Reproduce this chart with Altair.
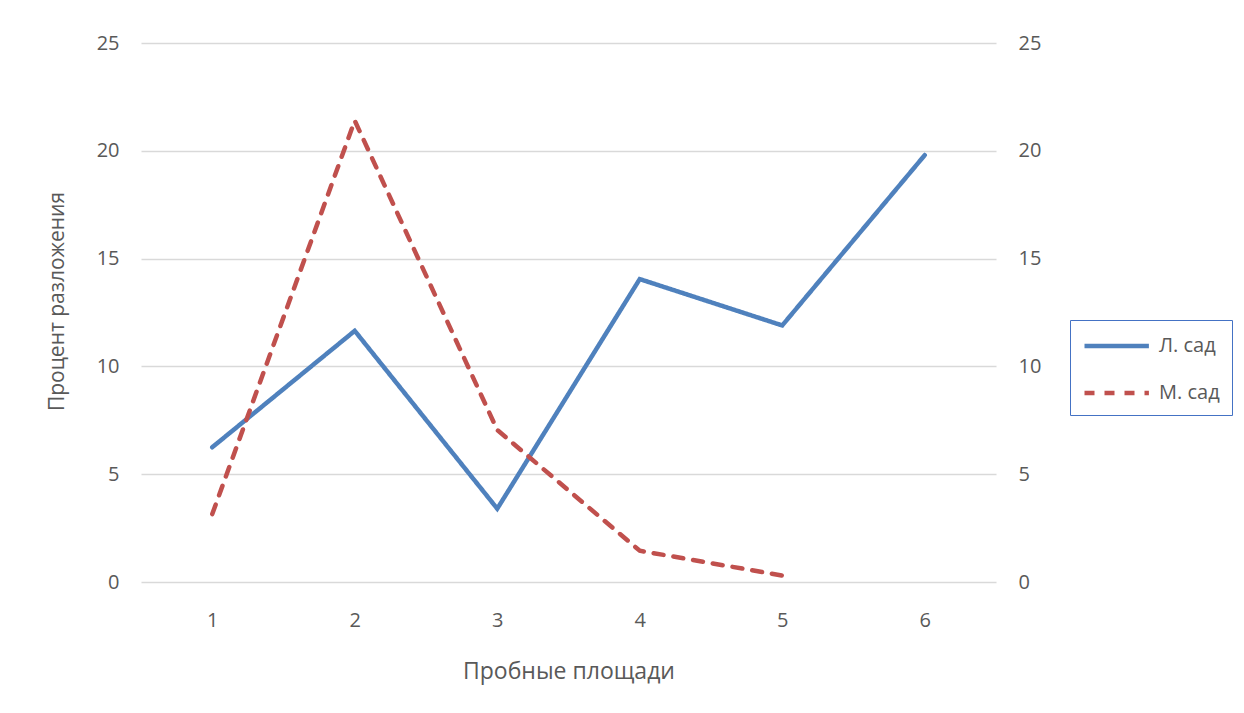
import altair as alt
import pandas as pd

categories = [1, 2, 3, 4, 5, 6]
series_l = [6.25, 11.65, 3.4, 14.05, 11.9, 19.8]
series_m = [3.15, 21.4, 7.05, 1.45, 0.3]
series_names = ["Л. сад", "М. сад"]
colors = ["#4f81bd", "#c0504d"]
y_ticks = [0, 5, 10, 15, 20, 25]

rows = []
for c, v in zip(categories, series_l):
    rows.append({"x": c, "y": v, "s": series_names[0]})
for c, v in zip(categories, series_m):
    rows.append({"x": c, "y": v, "s": series_names[1]})
df = pd.DataFrame(rows)

FONT = "Open Sans"
GRAY = "#595959"

xenc = alt.X("x:O", scale=alt.Scale(domain=categories, paddingInner=0, paddingOuter=0, align=0.5),
             axis=alt.Axis(title="Пробные площади", labelAngle=0, domain=False, ticks=False,
                           labelPadding=28, titleY=89, titleBaseline="middle",
                           titleFontSize=23, titleFontWeight="normal"))
yscale = alt.Scale(domain=[0, 25], nice=False)

lines = alt.Chart(df).mark_line(strokeWidth=4.5, strokeCap="round", strokeJoin="miter").encode(
    x=xenc,
    y=alt.Y("y:Q", scale=yscale,
            axis=alt.Axis(title="Процент разложения", values=y_ticks, domain=False, ticks=False,
                          grid=True, labelPadding=22, titleX=-84, titleY=258,
                          titleAngle=270, titleAlign="center", titleBaseline="middle",
                          titleFontSize=21, titleFontWeight="normal")),
    color=alt.Color("s:N", scale=alt.Scale(domain=series_names, range=colors),
                    legend=alt.Legend(title=None, orient="none", legendX=929, legendY=277,
                                      symbolType="M-1,0H4.6", symbolSize=529, symbolStrokeWidth=4.5,
                                      strokeColor="#4472c4", padding=12, rowPadding=23,
                                      labelFontSize=20, labelOffset=49, fillColor="white")),
    strokeDash=alt.StrokeDash("s:N", scale=alt.Scale(domain=series_names, range=[[1, 0], [10, 10]]),
                              legend=None),
)

right = alt.Chart(df).mark_line(opacity=0).encode(
    x=alt.X("x:O", scale=alt.Scale(domain=categories, paddingInner=0, paddingOuter=0)),
    y=alt.Y("y:Q", scale=yscale,
            axis=alt.Axis(title=None, orient="right", values=y_ticks, domain=False, ticks=False,
                          grid=False, labelPadding=22)),
)

chart = alt.layer(lines, right).resolve_axis(y="independent").properties(
    width=855, height=539,
    padding={"left": 133, "top": 35, "right": 240, "bottom": 123},
    autosize=alt.AutoSizeParams(type="none"),
).configure_view(stroke=None).configure_axis(
    labelFont=FONT, titleFont=FONT, labelColor=GRAY, titleColor=GRAY,
    labelFontSize=20, gridColor="#d9d9d9", gridWidth=1.3,
).configure_legend(labelFont=FONT, labelColor=GRAY)

chart.save("out.html", embed_options={"renderer": "svg", "actions": False})
